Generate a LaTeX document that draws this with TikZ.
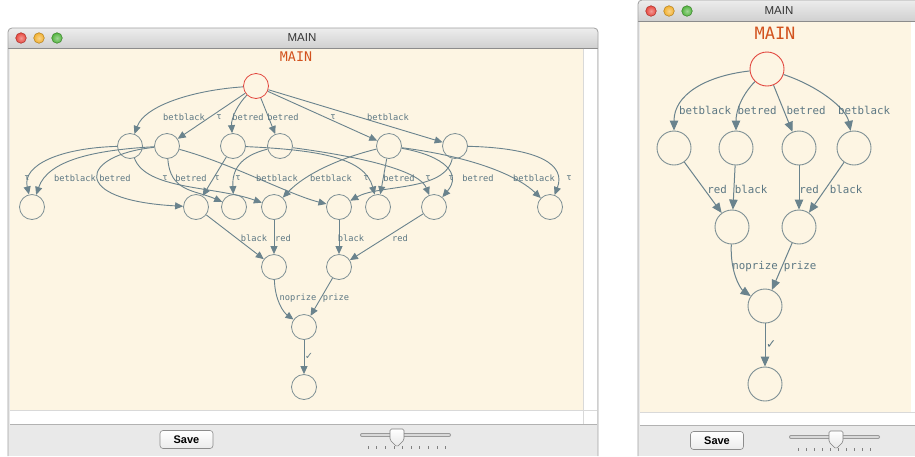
\documentclass[tikz,border=0pt]{standalone}
\usepackage{fontspec}
\setmainfont{DejaVu Sans}
\newfontfamily\lblfont{DejaVu Sans Mono}
\newfontfamily\uifont{Liberation Sans}
\usetikzlibrary{arrows.meta}
\definecolor{cream}{HTML}{FDF5E3}
\definecolor{edgec}{HTML}{6A838D}
\definecolor{nodec}{HTML}{7D8F94}
\definecolor{lblc}{HTML}{5C7783}
\definecolor{rootc}{HTML}{E2463E}
\definecolor{titlec}{HTML}{D2521E}
\definecolor{barTop}{HTML}{EDEDED}
\definecolor{barBot}{HTML}{D0D0D0}
\definecolor{toolc}{HTML}{E9E9E9}
\definecolor{winb}{HTML}{A0A0A0}
\definecolor{tlred}{HTML}{E8483F}
\definecolor{tlredd}{HTML}{A8302A}
\definecolor{tlyel}{HTML}{F2B02E}
\definecolor{tlyeld}{HTML}{B07E1E}
\definecolor{tlgrn}{HTML}{52B43E}
\definecolor{tlgrnd}{HTML}{3A822C}
\tikzset{
  st/.style={circle, draw=nodec, line width=0.8pt, minimum size=25pt, inner sep=0pt},
  rst/.style={st, draw=rootc},
  bst/.style={circle, draw=nodec, line width=0.9pt, minimum size=34pt, inner sep=0pt},
  brst/.style={bst, draw=rootc},
  edge/.style={draw=edgec, line width=0.9pt, -{Triangle[length=8pt,width=7pt]}},
  bedge/.style={draw=edgec, line width=1pt, -{Triangle[length=10pt,width=8.5pt]}},
  lbl/.style={font=\lblfont\fontsize{8.7}{9}\selectfont, text=lblc, inner sep=0pt},
  blbl/.style={font=\lblfont\fontsize{10.8}{11}\selectfont, text=lblc, inner sep=0pt},
  ckl/.style={font=\lblfont\fontsize{11}{12}\selectfont, text=lblc, inner sep=0pt},
  bckl/.style={font=\lblfont\fontsize{14}{15}\selectfont, text=lblc, inner sep=0pt},
  ttl/.style={font=\lblfont\fontsize{13.3}{14}\selectfont, text=titlec, inner sep=0pt},
  bttl/.style={font=\lblfont\fontsize{17}{18}\selectfont, text=titlec, inner sep=0pt},
  wtitle/.style={font=\uifont\fontsize{11.5}{12}\selectfont, text=black!80, inner sep=0pt},
  savebtn/.style={draw=black!45, rounded corners=3pt, top color=white, bottom color=black!8, line width=0.6pt,
     minimum width=53pt, minimum height=18pt, inner sep=0pt, font=\uifont\bfseries\fontsize{11}{12}\selectfont},
  tlr/.style={inner color=tlred!55!white, outer color=tlred, draw=tlredd, line width=0.5pt},
  tly/.style={inner color=tlyel!55!white, outer color=tlyel, draw=tlyeld, line width=0.5pt},
  tlg/.style={inner color=tlgrn!55!white, outer color=tlgrn, draw=tlgrnd, line width=0.5pt},
}
\begin{document}
\begin{tikzpicture}[x=1pt,y=-1pt]
\useasboundingbox (0,0) rectangle (915,456);
\fill[white] (0,0) rectangle (915,456);

% ================= LEFT WINDOW =================
\fill[toolc] (8,40) rectangle (598,456);
\shade[top color=barTop, bottom color=barBot] (8,32) arc[start angle=180,end angle=270,radius=4] -- (594,28) arc[start angle=270,end angle=360,radius=4] -- (598,48) -- (8,48) -- cycle;
\draw[black!45] (8,48) -- (598,48);
\fill[cream] (10,48.5) rectangle (583,410);
\fill[white] (583,48.5) rectangle (597,410);
\fill[white] (10,410) rectangle (597,424);
\draw[black!15] (10,410) -- (597,410);
\draw[black!15] (583,48.5) -- (583,424);
\draw[black!30] (10,424) -- (597,424);
\draw[winb, line width=0.8pt] (8,456) -- (8,32) arc[start angle=180,end angle=270,radius=4] -- (594,28) arc[start angle=270,end angle=360,radius=4] -- (598,456);
\shade[tlr] (21,38) circle[radius=5.3];
\shade[tly] (39,38) circle[radius=5.3];
\shade[tlg] (57,38) circle[radius=5.3];
\node[wtitle] (ltitle) at (302,38) {MAIN};
\node[savebtn] (lsave) at (186.5,439.5) {Save};
\draw[black!40, line width=4pt, line cap=round] (362,435) -- (449,435);
\draw[black!15, line width=2.6pt, line cap=round] (362,435) -- (449,435);
\foreach \i in {0,...,9} {\draw[black!50, line width=0.5pt] (368+\i*8.6,446) -- (368+\i*8.6,449);}
\draw[black!50, top color=white, bottom color=black!10, line width=0.6pt, rounded corners=1.5pt]
  (390,429) -- (404,429) -- (404,440) -- (397,447) -- (390,440) -- cycle;

\node[ttl] (ltitle2) at (296,57) {MAIN};

% nodes
\node[rst] (r) at (256,86) {};
\node[st] (A1) at (130,146) {};
\node[st] (A2) at (167,146) {};
\node[st] (A3) at (233,146) {};
\node[st] (A4) at (280,146) {};
\node[st] (A5) at (389,146) {};
\node[st] (A6) at (455,146) {};
\node[st] (B1) at (32,207) {};
\node[st] (B2) at (196,207) {};
\node[st] (B3) at (234,207) {};
\node[st] (B4) at (274,207) {};
\node[st] (B5) at (339,207) {};
\node[st] (B6) at (378,207) {};
\node[st] (B7) at (434,207) {};
\node[st] (B8) at (550,207) {};
\node[st] (C1) at (274,267) {};
\node[st] (C2) at (339,267) {};
\node[st] (D) at (304,327) {};
\node[st] (E) at (304,387) {};

% root edges
\draw[edge] (r) .. controls (195,90) and (145,105) .. (A1);
\draw[edge] (r) -- (A2);
\draw[edge] (r) .. controls (238,104) and (231,118) .. (A3);
\draw[edge] (r) -- (A4);
\draw[edge] (r) -- (A5);
\draw[edge] (r) -- (A6);
\node[lbl] (l01) at (184,117) {betblack};
\node[lbl] (l02) at (219,117) {τ};
\node[lbl] (l03) at (248,117) {betred};
\node[lbl] (l04) at (283,117) {betred};
\node[lbl] (l05) at (333,117) {τ};
\node[lbl] (l06) at (388,117) {betblack};

% level 1 -> 2
\draw[edge] (A1) .. controls (60,148) and (22,165) .. (B1);
\draw[edge] (A2) .. controls (95,150) and (48,160) .. (B1);
\draw[edge] (A2) .. controls (80,155) and (68,200) .. (B2);
\draw[edge] (A1) .. controls (146,190) and (215,186) .. (B4);
\draw[edge] (A2) .. controls (170,192) and (195,190) .. (B3);
\draw[edge] (A2) .. controls (230,163) and (290,195) .. (B5);
\draw[edge] (A3) -- (B2);
\draw[edge] (A3) .. controls (320,150) and (365,158) .. (B6);
\draw[edge] (A4) .. controls (240,156) and (232,170) .. (B3);
\draw[edge] (A4) .. controls (370,158) and (420,172) .. (B7);
\draw[edge] (A5) .. controls (340,158) and (305,174) .. (B4);
\draw[edge] (A5) -- (B6);
\draw[edge] (A5) .. controls (445,156) and (462,174) .. (B7);
\draw[edge] (A5) .. controls (480,158) and (520,178) .. (B8);
\draw[edge] (A6) .. controls (445,192) and (380,184) .. (B5);
\draw[edge] (A6) .. controls (540,148) and (566,165) .. (B8);
\node[lbl] (m01) at (27,178) {τ};
\node[lbl] (m02) at (75,178) {betblack};
\node[lbl] (m03) at (115,178) {betred};
\node[lbl] (m04) at (165,178) {τ};
\node[lbl] (m05) at (191,178) {betred};
\node[lbl] (m06) at (217,178) {τ};
\node[lbl] (m07) at (238,178) {τ};
\node[lbl] (m08) at (277,178) {betblack};
\node[lbl] (m09) at (331,178) {betblack};
\node[lbl] (m10) at (366,178) {τ};
\node[lbl] (m11) at (399,178) {betred};
\node[lbl] (m12) at (428,178) {τ};
\node[lbl] (m13) at (451,178) {τ};
\node[lbl] (m14) at (478,178) {betred};
\node[lbl] (m15) at (534,178) {betblack};
\node[lbl] (m16) at (569,178) {τ};

% level 2 -> 3 -> 4 -> 5
\draw[edge] (B2) -- (C1);
\draw[edge] (B4) -- (C1);
\draw[edge] (B5) -- (C2);
\draw[edge] (B7) -- (C2);
\node[lbl] (n01) at (254,238) {black};
\node[lbl] (n02) at (283,238) {red};
\node[lbl] (n03) at (351,238) {black};
\node[lbl] (n04) at (400,238) {red};
\draw[edge] (C1) .. controls (275,300) and (283,312) .. (D);
\draw[edge] (C2) -- (D);
\node[lbl] (n05) at (298,298) {noprize};
\node[lbl] (n06) at (336,298) {prize};
\draw[edge] (D) -- (E);
\node[ckl] (n07) at (309,356) {✓};

% ================= RIGHT WINDOW =================
\fill[toolc] (638,10) rectangle (915,456);
\shade[top color=barTop, bottom color=barBot] (638,4) arc[start angle=180,end angle=270,radius=4] -- (915,0) -- (915,21) -- (638,21) -- cycle;
\draw[black!45] (638,21) -- (915,21);
\fill[cream] (640,21.5) rectangle (911,412);
\fill[white] (911,21.5) rectangle (915,412);
\fill[white] (640,412) rectangle (915,425);
\draw[black!15] (640,412) -- (915,412);
\draw[black!30] (640,425) -- (915,425);
\draw[winb, line width=0.8pt] (638,456) -- (638,4) arc[start angle=180,end angle=270,radius=4] -- (915,0);
\shade[tlr] (651,11) circle[radius=5.3];
\shade[tly] (669,11) circle[radius=5.3];
\shade[tlg] (687,11) circle[radius=5.3];
\node[wtitle] (rtitle) at (779,11) {MAIN};
\node[savebtn] (rsave) at (717,440.5) {Save};
\draw[black!40, line width=4pt, line cap=round] (791,437) -- (878,437);
\draw[black!15, line width=2.6pt, line cap=round] (791,437) -- (878,437);
\foreach \i in {0,...,9} {\draw[black!50, line width=0.5pt] (798+\i*8,448) -- (798+\i*8,451);}
\draw[black!50, top color=white, bottom color=black!10, line width=0.6pt, rounded corners=1.5pt]
  (829,431) -- (843,431) -- (843,442) -- (836,449) -- (829,442) -- cycle;

\node[bttl] (rtitle2) at (775,33) {MAIN};

\node[brst] (R0) at (767,69) {};
\node[bst] (N1) at (674,148) {};
\node[bst] (N2) at (736,148) {};
\node[bst] (N3) at (799,148) {};
\node[bst] (N4) at (854,148) {};
\node[bst] (P1) at (732,227) {};
\node[bst] (P2) at (799,227) {};
\node[bst] (Q) at (765,306) {};
\node[bst] (S) at (765,384) {};

\draw[bedge] (R0) .. controls (705,76) and (674,95) .. (N1);
\draw[bedge] (R0) .. controls (742,95) and (736,110) .. (N2);
\draw[bedge] (R0) -- (N3);
\draw[bedge] (R0) .. controls (818,86) and (846,108) .. (N4);
\node[blbl] (k01) at (705,110) {betblack};
\node[blbl] (k02) at (757,110) {betred};
\node[blbl] (k03) at (806,110) {betred};
\node[blbl] (k04) at (864,110) {betblack};
\draw[bedge] (N1) -- (P1);
\draw[bedge] (N2) -- (P1);
\draw[bedge] (N3) -- (P2);
\draw[bedge] (N4) -- (P2);
\node[blbl] (k05) at (717,189) {red};
\node[blbl] (k06) at (751,189) {black};
\node[blbl] (k07) at (809,189) {red};
\node[blbl] (k08) at (846,189) {black};
\draw[bedge] (P1) .. controls (730,275) and (742,290) .. (Q);
\draw[bedge] (P2) -- (Q);
\node[blbl] (k09) at (755,267) {noprize};
\node[blbl] (k10) at (800,267) {prize};
\draw[bedge] (Q) -- (S);
\node[bckl] (k11) at (771,345) {✓};
\end{tikzpicture}
\end{document}
